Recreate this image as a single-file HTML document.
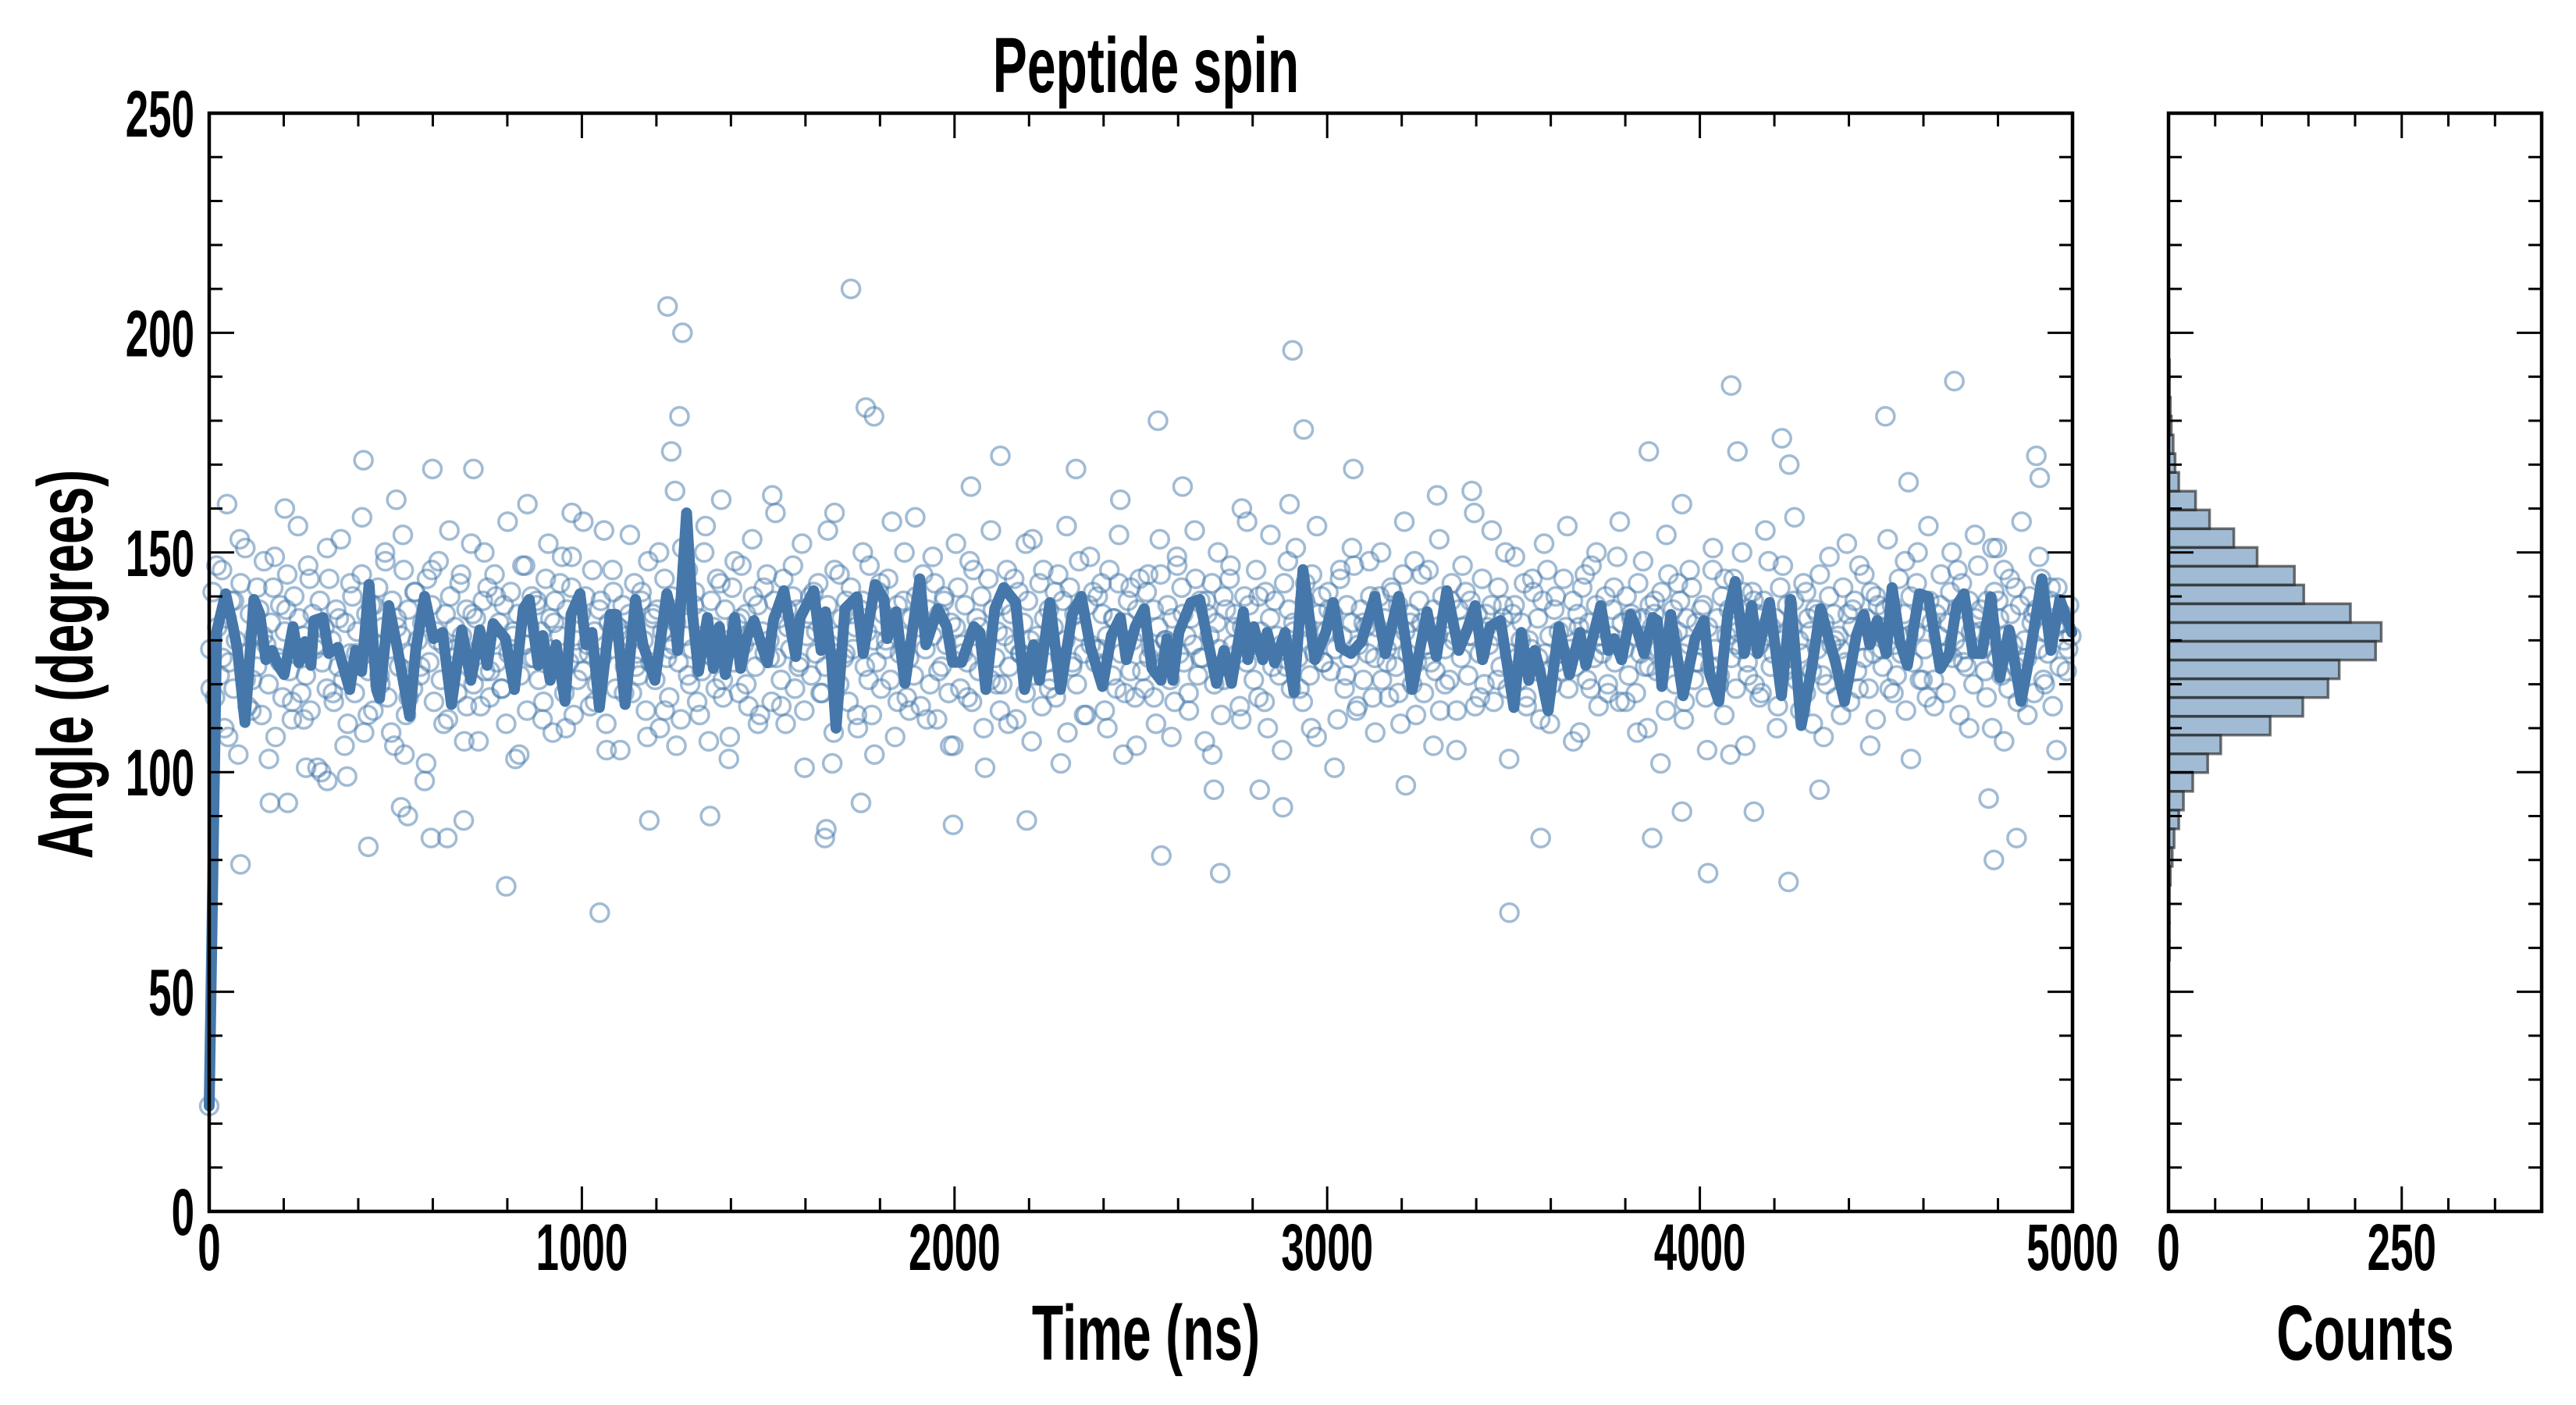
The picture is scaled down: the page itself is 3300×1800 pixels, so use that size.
<!DOCTYPE html>
<html><head><meta charset="utf-8"><title>Peptide spin</title>
<style>html,body{margin:0;padding:0;background:#fff}svg{display:block}</style></head>
<body>
<svg id="chart" xmlns="http://www.w3.org/2000/svg" width="3300" height="1800" viewBox="0 0 3300 1800">
<g id="scatter"></g>
<g id="line"></g>
<g id="hist"></g>
<g id="axes"></g>
<g id="labels"></g>
</svg>
<script>
// ---- data ----
const lineT = [0,20,44,64,76,96,120,136,152,169,185,201,225,241,257,273,281,305,321,345,377,393,409,429,449,457,482,506,538,554,578,602,626,650,678,702,726,746,762,795,819,843,859,883,895,915,931,955,971,995,1011,1027,1047,1076,1092,1116,1144,1164,1196,1228,1252,
1257,1281,1297,1313,1337,1353,1369,1385,1410,1426,1442,1462,1482,1498,1514,1542,1574,1586,1622,1642,1654,1670,1682,1706,1738,1755,1787,1811,1819,1843,1867,1907,1923,1955,1979,1995,2019,2052,2068,2084,2108,2132,2164,2188,2212,2228,2256,2284,2316,2340,2365,2397,2421,2445,2461,2485,2509,
2530,2554,2570,2586,2602,2634,2658,2675,2703,2723,2743,2755,2775,2787,2803,2827,2839,2859,2887,2911,2935,2967,2996,3016,3036,3064,3092,3128,3156,3192,3212,3228,3268,3293,3321,3353,3373,3397,3417,3437,3465,3501,3521,3541,3557,3573,3593,3622,3650,3678,3694,3734,
3754,3770,3790,3814,3834,3850,3874,3886,3898,3922,3955,3987,4011,4027,4051,4075,4095,4119,4139,4155,4187,4219,4244,4272,4300,4324,4348,4364,4388,4420,4440,4456,4476,4500,4516,4537,4557,4589,4613,4645,4669,4689,4709,4733,4757,4781,4805,4830,4862,4886,4918,4942,4966,4998];
const lineV = [24,132,140.6,133.1,127.7,111.3,139.3,135.9,125.6,127.7,124.3,122.2,133.1,124.9,129.7,124.3,134.5,135.2,127,128.4,118.8,127.7,122.9,142.7,118.8,116.8,137.9,127.7,112.7,127.7,140,130.4,131.8,115.4,132.4,120.9,132.4,124.3,133.8,130.4,118.8,137.2,139.3,124.3,131.1,120.9,129,116.1,135.9,140.6,129,131.8,114.7,135.9,135.9,115.4,139.3,129,120.9,140.6,132.4,
127.7,159,135.9,122.9,135.2,123.6,133.1,122.2,135.2,123.6,130.4,134.5,129,124.9,134.5,141.3,126.3,135.2,141.3,127.7,136.5,125.6,110,137.2,139.9,127,142.7,139.3,130.4,136.5,120.2,144,129,137.2,133.1,125,125,133.1,131.8,118.8,137.2,142,138.6,118.8,129,120.9,138.6,118.8,135.9,140,128.4,119.5,131.1,135.2,125.6,133.1,137.2,
123.6,120.9,130.4,120.9,131.8,138.6,139.3,131.8,120.2,127.7,120.2,126.3,136.5,125.6,133.1,125.6,131.8,124.9,131.8,118.1,146.1,125.6,131.8,138.6,128.4,127,129.7,140,127,140,129,118.8,136.5,126.3,141.3,127.7,131.8,137.9,125.6,133.1,134.5,114.7,131.8,120.9,127.7,122.2,114,133.1,122.2,131.8,124.3,137.9,
127.7,130.4,125.6,135.9,131.8,127,135.2,134.5,119.5,135.9,117.4,130.4,134.5,122.2,116.1,135.9,143.4,127,137.9,127,138.6,117.4,139.3,110.6,123.6,137.2,129.7,125,116.1,131.1,135.9,129,134.5,127,142,129.7,124.3,140.6,139.9,123.6,127,137.9,140.6,127,127,139.9,121.5,132.4,116.1,127,144,127.7,139.3,131.8];
const cloudV = [
128,141,117,133,122,146,110,135,125,139,119,130,104,143,127,151,115,136,121,131,
124,137,113,148,129,120,134,142,108,126,138,117,132,145,123,112,140,127,135,118,
131,122,147,114,136,128,101,139,125,133,119,144,130,116,137,124,153,121,134,111,
127,140,118,132,126,145,109,136,123,138,114,129,142,120,133,150,117,128,139,106,
135,124,131,146,113,137,127,119,141,130,122,134,98,144,125,138,116,132,148,121,
129,136,112,140,126,133,118,143,131,107,137,124,152,120,135,128,115,139,123,142,
117,130,145,125,134,119,138,111,127,141,132,103,136,122,147,129,114,133,140,126,
138,121,132,116,144,128,135,109,139,124,131,149,118,137,125,142,113,130,127,136,
123,140,129,115,146,132,120,137,126,155,111,134,128,141,119,133,105,138,124,131,
136,118,143,127,122,139,130,114,148,125,135,121,137,110,132,144,126,117,140,129,
134,125,112,138,131,146,120,128,141,116,135,123,150,127,107,139,133,119,126,143,
121,137,130,108,142,125,134,118,147,129,136,115,131,140,124,138,113,132,127,145,
130,116,139,126,135,121,144,111,133,128,140,119,137,125,152,114,131,136,122,141,
127,143,118,134,124,138,129,102,146,131,120,135,126,139,116,142,128,133,110,137,
139,124,132,147,113,130,125,141,119,136,128,144,121,134,108,138,127,131,150,117,
126,135,122,140,133,115,145,128,137,120,131,143,112,136,124,139,129,118,134,106,
133,142,119,127,138,125,148,116,131,135,123,140,110,129,144,121,137,126,132,114,
120,131,146,124,136,129,112,141,127,134,118,139,130,153,122,128,143,115,135,125,
137,121,133,117,145,126,139,130,109,142,124,136,120,148,132,127,113,138,129,141,
125,140,128,136,114,131,146,122,135,119,143,127,104,134,139,123,130,117,137,144,
132,119,141,126,128,137,111,133,145,124,130,138,121,135,116,149,127,142,125,131,
118,135,129,144,122,139,126,107,136,131,143,120,134,128,113,140,137,124,147,129,
136,127,115,133,140,125,138,130,121,146,117,132,128,141,110,135,124,139,131,122,
129,143,124,137,119,134,151,126,130,116,139,133,122,145,127,108,136,140,125,132,
141,123,136,128,112,144,131,119,138,126,134,147,114,129,137,121,133,127,140,117,
126,133,140,121,135,128,117,142,130,124,138,111,145,132,127,136,120,148,125,139,
134,118,129,146,125,137,123,131,114,140,128,135,121,143,130,105,137,126,133,141,
122,139,131,115,136,127,144,120,133,129,138,116,131,142,124,135,150,119,127,136,
138,126,121,134,143,117,130,128,141,123,135,112,139,127,146,131,120,137,125,132,
127,144,133,119,128,139,124,136,109,142,130,121,134,147,126,138,115,131,129,140,
120,131,137,125,149,116,134,128,140,122,136,131,118,143,127,135,124,110,138,133,
136,123,128,141,130,114,145,126,137,120,132,139,127,116,135,129,142,121,134,125,
130,138,117,133,124,146,128,135,122,140,113,131,137,126,144,119,132,128,141,106,
125,134,141,120,136,129,118,139,131,148,124,127,135,115,142,130,123,138,126,133,
139,121,130,127,143,118,135,132,111,137,128,145,122,134,120,140,129,136,117,131,
128,142,125,136,116,133,139,123,147,130,126,135,119,141,127,112,138,132,124,137,
133,119,138,129,122,144,127,136,114,131,140,125,132,150,121,135,128,117,139,134,
121,136,131,145,127,118,134,141,126,130,137,113,143,128,124,139,132,120,135,147,
137,128,123,139,133,110,141,126,135,122,146,131,119,136,129,142,116,138,125,130,
126,140,134,118,137,128,144,121,132,127,139,115,133,142,124,136,130,123,138,131];
const cloud2V = [
119,147,126,108,139,153,121,114,142,131,103,149,125,137,116,156,112,144,129,100,
151,118,135,106,143,127,158,113,138,122,148,109,133,154,117,141,124,102,146,130,
111,155,128,145,115,136,107,150,123,140,119,157,131,104,147,126,139,112,152,134,
143,110,149,121,157,127,116,139,105,146,132,118,154,124,141,108,136,150,114,128,
106,151,122,138,113,156,129,144,117,103,148,135,120,153,111,142,126,159,115,137,
147,124,101,140,132,118,155,109,145,127,136,113,150,121,104,143,130,157,116,139,
114,158,135,112,149,123,140,106,152,129,117,146,133,101,155,120,138,111,144,127,
152,107,131,146,119,141,102,156,125,137,113,149,128,143,110,135,154,118,142,106,
123,145,117,153,130,108,147,136,114,155,126,139,104,150,121,144,133,112,157,129,
140,116,154,127,105,148,132,119,143,110,156,125,137,101,146,122,151,115,134,148,
109,150,125,141,118,157,134,113,145,128,106,153,120,139,114,147,131,159,117,136,
155,121,138,103,149,130,115,144,126,152,111,140,123,156,107,133,145,119,150,127,
118,142,157,116,135,109,148,124,139,102,154,131,143,112,146,125,137,105,151,120,
144,104,129,150,122,139,117,155,133,110,147,126,158,114,141,123,136,108,149,130,
113,152,137,119,145,106,140,128,153,118,131,148,103,143,121,156,115,138,127,150,
146,125,110,154,132,117,151,139,107,144,124,157,113,136,149,120,142,105,134,128];
const outT = [0,1230,1270,1262,1240,1250,1722,1762,1784,2907,2937,4084,4683,4498,3863,4220,4101,4903,4912,4797,797,1048,3489,2713,4238,4022,2555,4789,4850,84,427,595,639,1652,1656,3573,4775,1749,1344,1181,2696,2819,2881,3211,3952,4145,3872,4321,2194,1996,515,533,683,163,211,317,370,260,524,709,414,599,502,48,203,854,973,1374,1511,1678,2044,2123,2326,2445,2546,2612,2771,2899,3070,3388,3295,3952,4240,4560];
const outV = [24,206,200,181,173,164,210,183,181,196,178,188,189,181,173,176,173,172,167,151,74,68,68,77,75,77,81,80,85,79,83,85,85,85,87,85,94,93,90,89,96,96,92,97,91,91,85,96,89,88,92,90,89,93,93,98,99,101,104,169,171,169,162,161,160,161,159,162,163,159,165,172,169,162,180,165,160,161,169,164,163,161,170,166];
const histEdge0 = 57.2;
const histWidth = 4.27;
const histCounts = [1,1,1,1,2,4,6,11,16,26,42,56,109,144,171,183,222,228,195,145,135,95,70,44,29,11,7,5,3,2,1,1];
const xTicks = [0,1000,2000,3000,4000,5000];
const yTicks = [0,50,100,150,200,250];
const cTicks = [0,250];

// ---- scales ----
const X0=268,X1=2655,Y0=1552,Y1=145,H0=2778,H1=3256;
const xs=t=>X0+(t/5000)*(X1-X0);
const ys=v=>Y0-(v/250)*(Y0-Y1);
const hs=c=>H0+(c/400)*(H1-H0);
const NS='http://www.w3.org/2000/svg';
function mk(tag,attrs,parent){const e=document.createElementNS(NS,tag);for(const k in attrs)e.setAttribute(k,attrs[k]);parent.appendChild(e);return e;}

// scatter
const sc=document.getElementById('scatter');
const allT=cloudV.map((v,i)=>(i+0.5)*5000/cloudV.length)
  .concat(cloud2V.map((v,i)=>(i+0.25)*5000/cloud2V.length)).concat(outT);
const allV=cloudV.concat(cloud2V).concat(outV);
allV.forEach((v,i)=>{
  const c=mk('circle',{cx:xs(allT[i]),cy:ys(v),r:11.5,fill:'none',stroke:'rgba(68,119,170,0.5)','stroke-width':3.5},sc);
  
  
});
// line
const ln=document.getElementById('line');
const p=mk('polyline',{points:lineT.map((t,i)=>xs(t)+','+ys(lineV[i])).join(' '),fill:'none',stroke:'#4577aa','stroke-width':14,'stroke-linejoin':'round','stroke-linecap':'round'},ln);


// histogram
const hg=document.getElementById('hist');
histCounts.forEach((c,i)=>{
  const lo=histEdge0+i*histWidth, hi=lo+histWidth;
  const r=mk('rect',{x:H0,y:ys(hi),width:hs(c)-H0,height:ys(lo)-ys(hi),fill:'rgba(68,119,170,0.5)',stroke:'rgba(40,40,40,0.65)','stroke-width':3.5},hg);
  
  
});
// axes
const ax=document.getElementById('axes');
function frame(x0,x1){mk('rect',{x:x0,y:Y1,width:x1-x0,height:Y0-Y1,fill:'none',stroke:'#000','stroke-width':4.5},ax);}
frame(X0,X1);frame(H0,H1);
function tk(x1,y1,x2,y2){mk('line',{x1,y1,x2,y2,stroke:'#000','stroke-width':3},ax);}
for(let v=0;v<=250;v+=10){const y=ys(v),L=(v%50===0)?32:17;
  tk(X0,y,X0+L,y);tk(X1,y,X1-L,y);tk(H0,y,H0+L,y);tk(H1,y,H1-L,y);}
for(let t=0;t<=5000;t+=200){const x=xs(t),L=(t%1000===0)?32:17;tk(x,Y0,x,Y0-L);tk(x,Y1,x,Y1+L);}
for(let c=0;c<=400;c+=50){const x=hs(c),L=(c%250===0)?32:17;tk(x,Y0,x,Y0-L);tk(x,Y1,x,Y1+L);}
// labels
const lb=document.getElementById('labels');
const F='"Liberation Sans Narrow","Liberation Sans",sans-serif';
function txt(s,x,y,size,anchor,sx,name,rot){
  const g=mk('g',{transform:`translate(${x},${y})`+(rot?` rotate(${rot})`:'')+` scale(${sx},1)`},lb);
  const t=mk('text',{x:0,y:0,'font-family':F,'font-weight':'bold','font-size':size,'text-anchor':anchor,fill:'#000'},g);
  t.textContent=s;
  
  
  return t;
}
xTicks.forEach(v=>txt(String(v),xs(v),1627,84,'middle',0.63,'x-tick-label'));
yTicks.forEach(v=>txt(String(v),249,ys(v)+30,84,'end',0.63,'y-tick-label'));
cTicks.forEach(v=>txt(String(v),hs(v),1627,84,'middle',0.63,'counts-tick-label'));
txt('Peptide spin',1468,118,100,'middle',0.66,'chart-title');
txt('Time (ns)',1468,1742,100,'middle',0.66,'x-axis-title');
txt('Counts',3030,1742,100,'middle',0.66,'counts-axis-title');
txt('Angle (degrees)',118,851,100,'middle',0.66,'y-axis-title',-90);
</script>
</body></html>
